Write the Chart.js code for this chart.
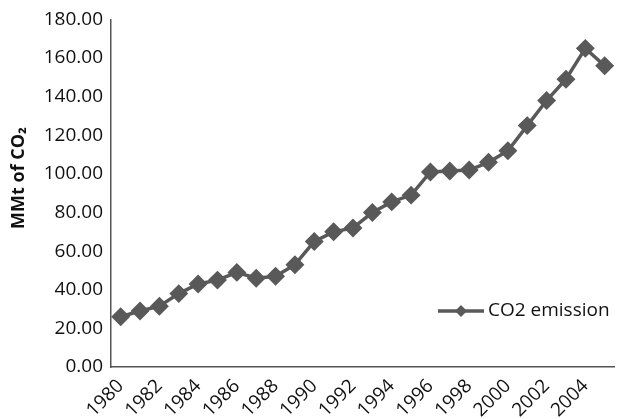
<!DOCTYPE html>
<html>
<head>
<meta charset="utf-8">
<script src="https://cdn.jsdelivr.net/npm/chart.js@4/dist/chart.umd.min.js"></script>
<style>
  html, body { margin: 0; padding: 0; background: #fff; }
  #wrap { width: 629px; height: 419px; }
</style>
</head>
<body>
<div id="wrap"><canvas id="co2_chart" width="629" height="419"></canvas></div>
<script>
const years = ["1980","1981","1982","1983","1984","1985","1986","1987","1988","1989",
               "1990","1991","1992","1993","1994","1995","1996","1997","1998","1999",
               "2000","2001","2002","2003","2004","2005"];
const emissions = [26, 29, 31.5, 38, 43, 45, 49, 46, 47, 53,
                   65, 70, 72, 80, 85.5, 89, 101, 101.5, 102, 106,
                   112, 125, 138, 149, 165, 156];
const seriesName = "CO2 emission";
const yTitle = "MMt of CO\u2082";

const lineColor = "#595959";
const fontFamily = "'Open Sans', Lato, sans-serif";

// legend and axis title drawn by hand, placed like the original
const extras = {
  id: "extras",
  afterDraw(chart) {
    const ctx = chart.ctx;
    const y = 311;
    ctx.save();
    ctx.strokeStyle = lineColor;
    ctx.lineWidth = 3.5;
    ctx.beginPath();
    ctx.moveTo(438, y);
    ctx.lineTo(484, y);
    ctx.stroke();
    ctx.fillStyle = lineColor;
    ctx.beginPath();
    ctx.moveTo(461, y - 6);
    ctx.lineTo(467, y);
    ctx.lineTo(461, y + 6);
    ctx.lineTo(455, y);
    ctx.closePath();
    ctx.fill();
    ctx.fillStyle = "#111";
    ctx.font = "19px " + fontFamily;
    ctx.textBaseline = "middle";
    ctx.fillText(seriesName, 488, y);

    ctx.translate(19, 178);
    ctx.rotate(-Math.PI / 2);
    ctx.textAlign = "center";
    ctx.font = "bold 18px " + fontFamily;
    ctx.fillText(yTitle, 0, 0);
    ctx.restore();
  }
};

document.addEventListener("DOMContentLoaded", function() {
  const context = document.getElementById("co2_chart").getContext("2d");
  new Chart(context, {
    type: "line",
    data: {
      labels: years,
      datasets: [{
        label: seriesName,
        data: emissions,
        borderColor: lineColor,
        backgroundColor: lineColor,
        borderWidth: 3.5,
        pointStyle: "rectRot",
        pointRadius: 7,
        pointHoverRadius: 7,
        tension: 0
      }]
    },
    options: {
      responsive: false,
      animation: false,
      layout: { padding: { top: 17, right: 0, left: 0, bottom: 0 } },
      plugins: {
        legend: { display: false },
        tooltip: { enabled: false }
      },
      scales: {
        x: {
          offset: true,
          grid: { display: false, drawTicks: false },
          border: { color: "#555", width: 1.5 },
          ticks: {
            autoSkip: false,
            minRotation: 45,
            maxRotation: 45,
            padding: 8,
            color: "#111",
            font: { family: fontFamily, size: 19 },
            callback: function(value, index) {
              return index % 2 === 0 ? years[index] : "";
            }
          },
          afterFit: function(scale) { scale.height = 52; }
        },
        y: {
          min: 0,
          max: 180,
          grid: { display: false, drawTicks: false },
          border: { color: "#555", width: 1.5 },
          ticks: {
            stepSize: 20,
            padding: 8,
            color: "#111",
            font: { family: fontFamily, size: 19 },
            callback: function(value) { return value.toFixed(2); }
          },
          afterFit: function(scale) { scale.width = 111; }
        }
      }
    },
    plugins: [extras]
  });
});
</script>
</body>
</html>
